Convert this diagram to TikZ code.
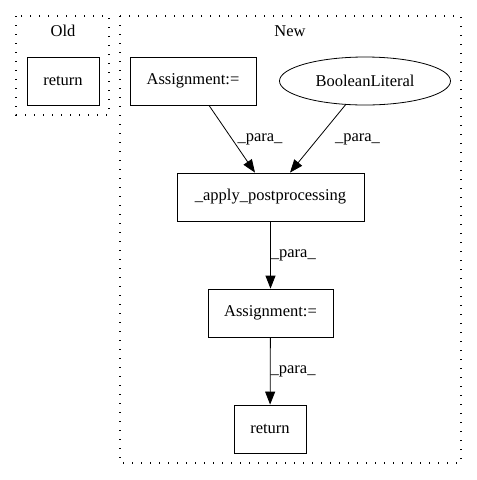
\documentclass[tikz,border=0pt]{standalone}
\usepackage{fontspec}
\setmainfont{Liberation Serif}
\usetikzlibrary{arrows.meta,shapes.geometric}
\tikzset{
  box/.style={draw, thick, rectangle, minimum height=48pt, inner xsep=10pt},
  oval/.style={draw, thick, ellipse, minimum width=171pt, minimum height=48pt, inner sep=0pt},
  cluster/.style={draw, line width=1.3pt, dash pattern=on 1.3pt off 7.7pt},
  para/.style={-{Triangle[length=13pt,width=10pt]}, thick},
}
\begin{document}
\begin{tikzpicture}[x=1pt, y=-1pt, font=\fontsize{16.5}{19}\selectfont]
        \useasboundingbox (0,0) rectangle (477,480);
        % clusters
        \draw [cluster] (16,16) rectangle (109,115);
        \node (oldlabel) at (63,31) {Old};
        \draw [cluster] (120,16) rectangle (461,463);
        \node (newlabel) at (290,31) {New};

        \node [box, minimum width=72pt] (oldreturn) at (63,81) {return};

        \node [box, minimum width=126pt] (assigntop) at (193,81) {Assignment:=};
        \node [oval] (boolean) at (365,81) {BooleanLiteral};
        \node [box, minimum width=187pt] (apply) at (270.5,197) {\_apply\_postprocessing};
        \node [box, minimum width=125pt] (assignlow) at (270.5,313) {Assignment:=};
        \node [box, minimum width=72pt] (newreturn) at (270,429) {return};

        \draw [para] (assigntop.south) ++(16,0) coordinate (a1) -- (apply.north -| 255,0) coordinate (a2);
        \path (a1) -- (a2) node[midway, right, xshift=2pt] {\_para\_};
        \draw [para] (boolean) -- (apply.north -| 290,0) coordinate (b2);
        \path (boolean.south) -- (b2) node[midway, right, xshift=4pt] {\_para\_};
        \draw [para] (apply) -- (assignlow) node[midway, right, inner sep=0pt] {\_para\_};
        \draw [para] (assignlow) -- (newreturn) node[midway, right, inner sep=0pt] {\_para\_};
    \end{tikzpicture}
\end{document}
